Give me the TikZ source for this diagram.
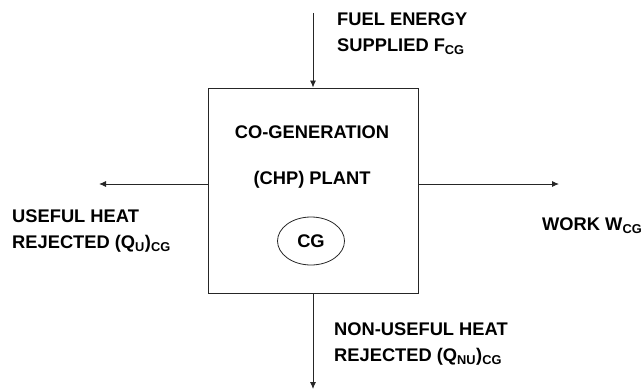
\documentclass[tikz,border=0pt]{standalone}
\usepackage{fontspec}
\setmainfont{Liberation Sans}
\usetikzlibrary{arrows.meta,shapes.geometric}
\begin{document}
\begin{tikzpicture}[x=1pt,y=-1pt,
  lbl/.style={font=\fontsize{18.3}{25.5}\selectfont\bfseries, inner sep=0pt, align=left, text=black},
  flow/.style={-{Latex[length=7pt,width=6pt]}, line width=0.9pt, black!85}]
\useasboundingbox (0,0) rectangle (644,390);
\node[draw=black!85, line width=0.9pt, minimum width=210pt, minimum height=205pt, inner sep=0pt] (plant) at (313,190.5) {};
\node[lbl, anchor=center] (t1) at (312,132) {CO-GENERATION};
\node[lbl, anchor=center] (t2) at (312,180) {(CHP) PLANT};
\node[draw=black!85, line width=0.8pt, ellipse, minimum width=67pt, minimum height=48pt, inner sep=0pt, lbl] (cg) at (311,241) {CG};
\coordinate (ftop) at (313,13);
\coordinate (lend) at (99,184);
\coordinate (rend) at (559,184);
\coordinate (bend) at (313,389);
\draw[flow] (ftop) -- (plant.north);
\draw[flow] (plant.west |- lend) -- (lend);
\draw[flow] (plant.east |- rend) -- (rend);
\draw[flow] (plant.south) -- (bend);
\node[lbl, anchor=north west] (fuel) at (337,13) {FUEL ENERGY\\SUPPLIED F\textsubscript{CG}};
\node[lbl, anchor=north west] (useful) at (12,210) {USEFUL HEAT\\REJECTED (Q\textsubscript{U})\textsubscript{CG}};
\node[lbl, anchor=north west] (work) at (542,218) {WORK W\textsubscript{CG}};
\node[lbl, anchor=north west] (nonuseful) at (334,323) {NON-USEFUL HEAT\\REJECTED (Q\textsubscript{NU})\textsubscript{CG}};
\end{tikzpicture}
\end{document}
